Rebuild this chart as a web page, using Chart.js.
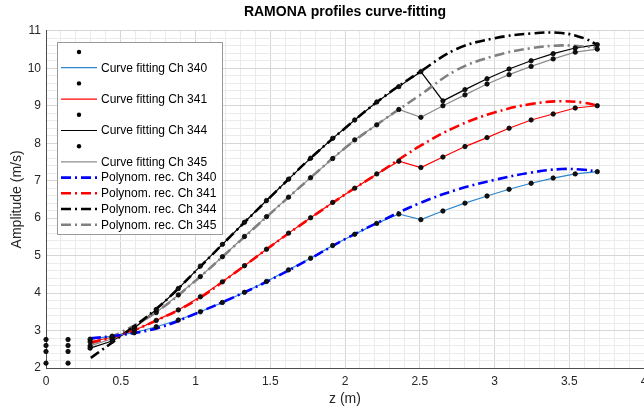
<!DOCTYPE html>
<html>
<head>
<meta charset="utf-8">
<script src="https://cdn.jsdelivr.net/npm/chart.js@4.4.1/dist/chart.umd.min.js"></script>
<style>
  html, body { margin: 0; padding: 0; background: #fff; overflow: hidden; }
  #wrap { width: 660px; height: 410px; position: relative; }
</style>
</head>
<body>
<div id="wrap"><canvas id="c"></canvas></div>
<script>
// ---- Data ----
const zData = [0, 0.1475, 0.295, 0.4425, 0.59, 0.7375, 0.885, 1.0325, 1.18, 1.3275, 1.475, 1.6225, 1.77,
               1.9175, 2.065, 2.2125, 2.36, 2.5075, 2.655, 2.8025, 2.95, 3.0975, 3.245, 3.3925, 3.54, 3.6875];
const ch340 = [2.76, 2.76, 2.77, 2.85, 2.94, 3.10, 3.28, 3.50, 3.75, 4.02, 4.31, 4.62, 4.93,
               5.27, 5.57, 5.86, 6.11, 5.96, 6.19, 6.40, 6.59, 6.77, 6.93, 7.07, 7.18, 7.24];
const ch341 = [2.60, 2.60, 2.70, 2.82, 3.00, 3.27, 3.55, 3.90, 4.30, 4.73, 5.17, 5.60, 6.01,
               6.42, 6.80, 7.18, 7.52, 7.35, 7.63, 7.91, 8.15, 8.40, 8.62, 8.78, 8.94, 9.00];
const ch344 = [2.13, 2.13, 2.53, 2.72, 3.06, 3.56, 4.12, 4.72, 5.30, 5.89, 6.47, 7.04, 7.60,
               8.13, 8.62, 9.10, 9.51, 9.91, 9.13, 9.43, 9.72, 9.98, 10.20, 10.39, 10.54, 10.63];
const ch345 = [2.44, 2.44, 2.59, 2.78, 3.08, 3.48, 3.95, 4.44, 4.97, 5.51, 6.04, 6.56, 7.08,
               7.59, 8.09, 8.49, 8.90, 8.69, 9.00, 9.29, 9.58, 9.83, 10.05, 10.25, 10.43, 10.51];
const fitStart = 2; // curve fitting starts at the third measurement

const zPoly   = [0.3, 0.5, 0.75, 1.0, 1.25, 1.5, 1.75, 2.0, 2.25, 2.5, 2.75, 3.0, 3.25, 3.45, 3.6, 3.69];
const poly340 = [2.79, 2.88, 3.07, 3.45, 3.88, 4.35, 4.88, 5.44, 5.94, 6.40, 6.76, 7.02, 7.22, 7.31, 7.29, 7.24];
const poly341 = [2.68, 2.88, 3.29, 3.80, 4.50, 5.24, 5.95, 6.63, 7.27, 7.92, 8.45, 8.82, 9.05, 9.12, 9.08, 9.00];
const poly344 = [2.27, 2.85, 3.62, 4.58, 5.58, 6.56, 7.53, 8.40, 9.21, 9.90, 10.52, 10.80, 10.93, 10.94, 10.80, 10.62];
const poly345 = [2.65, 2.95, 3.53, 4.33, 5.22, 6.12, 7.01, 7.87, 8.60, 9.28, 9.96, 10.33, 10.54, 10.61, 10.58, 10.55];

const channels = ['340', '341', '344', '345'];
const fitColors  = ['#2b86cf', '#ff0000', '#000000', '#8c8c8c'];
const polyColors = ['#0000ff', '#ff0000', '#000000', '#808080'];
const xTicksMajor = 0.5, yTicksMajor = 1;

// ---- Build datasets ----
const pts = (xs, ys) => xs.map((x, i) => ({ x: x, y: ys[i] }));
const chData = [ch340, ch341, ch344, ch345];
const polyData = [poly340, poly341, poly344, poly345];
const datasets = [];
channels.forEach((ch, i) => {
  datasets.push({
    label: '', kind: 'dot', data: pts(zData, chData[i]), showLine: false,
    pointRadius: 2.2, pointBackgroundColor: '#111', pointBorderColor: '#000', pointBorderWidth: 0.8,
    clip: false, order: 0
  });
  datasets.push({
    label: 'Curve fitting Ch ' + ch, kind: 'line',
    data: pts(zData.slice(fitStart), chData[i].slice(fitStart)), showLine: true,
    borderColor: fitColors[i], borderWidth: 1.2, pointRadius: 0, tension: 0, order: 2
  });
});
channels.forEach((ch, i) => {
  datasets.push({
    label: 'Polynom. rec. Ch ' + ch, kind: 'line',
    data: pts(zPoly, polyData[i]), showLine: true,
    borderColor: polyColors[i], borderWidth: 2.6, borderDash: [10, 4, 2, 4],
    pointRadius: 0, tension: 0.4, order: 1
  });
});

const isMajor = (v, step) => Math.abs(v / step - Math.round(v / step)) < 1e-6;

// ---- Legend box drawn inside the plot (MATLAB style) ----
const boxLegend = {
  id: 'boxLegend',
  afterDraw(chart) {
    const ctx = chart.ctx;
    const x0 = 57, y0 = 42, w = 165, h = 192;
    ctx.save();
    ctx.fillStyle = '#fff';
    ctx.fillRect(x0, y0, w, h);
    ctx.strokeStyle = '#9a9a9a';
    ctx.lineWidth = 1;
    ctx.setLineDash([]);
    ctx.strokeRect(x0 + 0.5, y0 + 0.5, w, h);
    ctx.font = '12px "Liberation Sans", Arial, sans-serif';
    ctx.textBaseline = 'middle';
    ctx.fillStyle = '#000';
    const dsArr = chart.data.datasets;
    dsArr.forEach((ds, i) => {
      const y = 52 + i * 15.7;
      if (ds.kind === 'dot') {
        ctx.beginPath();
        ctx.fillStyle = '#000';
        ctx.arc(79, y, 2.2, 0, Math.PI * 2);
        ctx.fill();
      } else {
        ctx.beginPath();
        ctx.strokeStyle = ds.borderColor;
        ctx.lineWidth = ds.borderWidth;
        ctx.setLineDash(ds.borderDash || []);
        ctx.moveTo(61, y);
        ctx.lineTo(97, y);
        ctx.stroke();
        ctx.setLineDash([]);
        ctx.fillStyle = '#000';
        ctx.fillText(ds.label, 101, y + 0.5);
      }
    });
    ctx.restore();
  }
};

Chart.defaults.font.family = '"Liberation Sans", Arial, sans-serif';
Chart.defaults.color = '#262626';

new Chart(document.getElementById('c'), {
  type: 'scatter',
  data: { datasets: datasets },
  options: {
    responsive: true,
    maintainAspectRatio: false,
    animation: false,
    layout: { padding: { left: 0, right: 16, top: 0, bottom: 0 } },
    plugins: {
      legend: { display: false },
      tooltip: { enabled: false },
      title: {
        display: true, text: 'RAMONA profiles curve-fitting', fullSize: false,
        color: '#000', font: { size: 14, weight: 'bold' },
        padding: { top: 4, bottom: 10 }
      }
    },
    scales: {
      x: {
        type: 'linear', min: 0, max: 4,
        afterFit(s) { s.height = 42; },
        ticks: {
          stepSize: 0.1, autoSkip: false, maxRotation: 0, padding: 6,
          font: { size: 12 }, color: '#262626',
          callback: (v) => isMajor(v, xTicksMajor) ? String(Math.round(v * 10) / 10) : ''
        },
        grid: {
          drawTicks: false,
          color: (c) => isMajor(c.tick.value, xTicksMajor) ? '#d6d6d6' : '#ebebeb'
        },
        border: { color: '#4d4d4d', width: 1 },
        title: { display: true, text: 'z (m)', font: { size: 14 }, color: '#262626', padding: { top: 2, bottom: 2 } }
      },
      y: {
        type: 'linear', min: 2, max: 11,
        afterFit(s) { s.width = 46; },
        ticks: {
          stepSize: 0.2, autoSkip: false, padding: 5,
          font: { size: 12 }, color: '#262626',
          callback: (v) => isMajor(v, yTicksMajor) ? String(Math.round(v)) : ''
        },
        grid: {
          drawTicks: false,
          color: (c) => isMajor(c.tick.value, yTicksMajor) ? '#d6d6d6' : '#ebebeb'
        },
        border: { color: '#4d4d4d', width: 1 },
        title: { display: true, text: 'Amplitude (m/s)', font: { size: 14 }, color: '#262626', padding: { top: 9, bottom: 0 } }
      }
    }
  },
  plugins: [boxLegend]
});
</script>
</body>
</html>
